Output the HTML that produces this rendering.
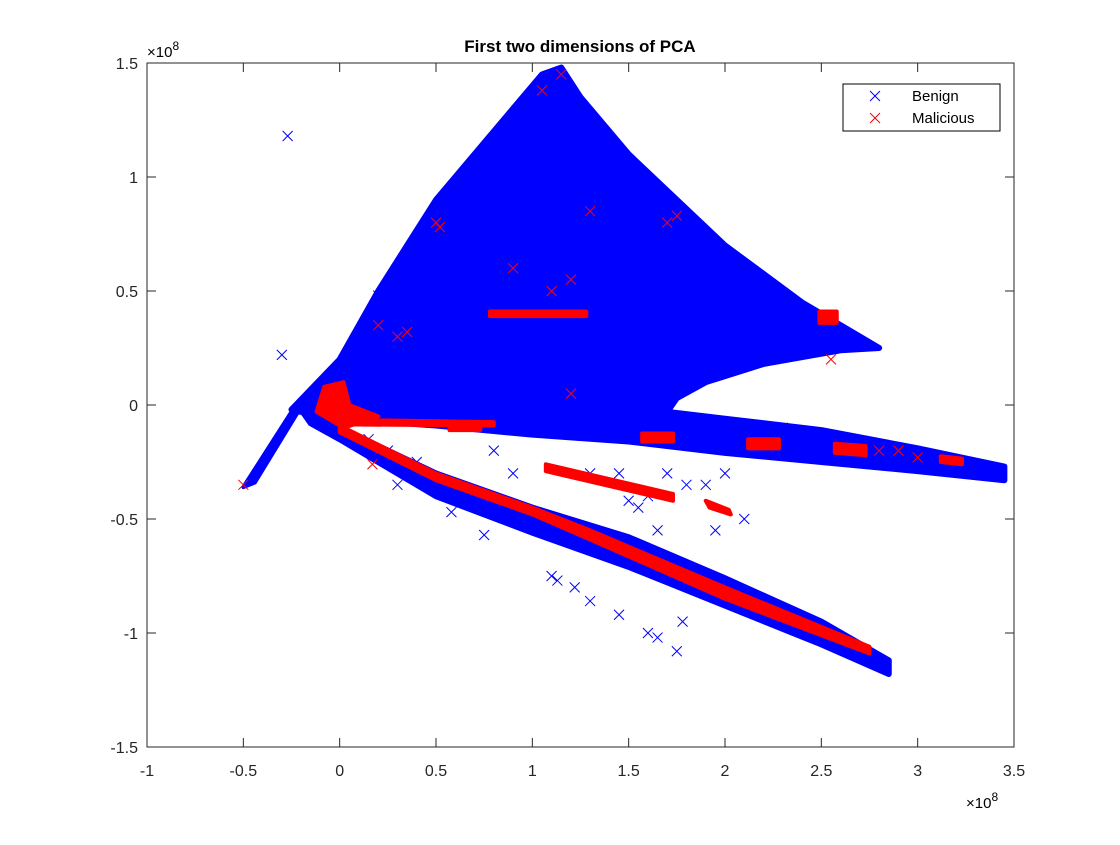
<!DOCTYPE html>
<html><head><meta charset="utf-8"><style>
body{margin:0;background:#fff;}
svg text{font-family:"Liberation Sans",sans-serif;}
</style></head><body>
<svg id="chart" width="1120" height="840" viewBox="0 0 1120 840" xmlns="http://www.w3.org/2000/svg">
<rect width="1120" height="840" fill="#fff"/>
<rect x="147" y="63" width="867" height="684" fill="#fff"/>
<g id="marks"></g>
<g id="axes"></g>
<text x="580" y="52" text-anchor="middle" font-size="17" font-weight="bold">First two dimensions of PCA</text>
<text x="147" y="57" font-size="15">×10<tspan dy="-7" font-size="12">8</tspan></text>
<text x="966" y="808" font-size="15">×10<tspan dy="-7" font-size="12">8</tspan></text>
<g>
<rect x="843" y="84" width="157" height="47" fill="#fff" stroke="#000" stroke-width="1"/>
<g>
<path d="M870 91 l10 10 M880 91 l-10 10" stroke="#0000ff" stroke-width="1"/>
<text x="912" y="101" font-size="15">Benign</text></g>
<g>
<path d="M870 113 l10 10 M880 113 l-10 10" stroke="#ff0000" stroke-width="1"/>
<text x="912" y="123" font-size="15">Malicious</text></g>
</g>
</svg>
<script>
const xTicks=[-1,-0.5,0,0.5,1,1.5,2,2.5,3,3.5];
const xTickLabels=["-1","-0.5","0","0.5","1","1.5","2","2.5","3","3.5"];
const yTicks=[-1.5,-1,-0.5,0,0.5,1,1.5];
const yTickLabels=["-1.5","-1","-0.5","0","0.5","1","1.5"];
// dense regions (units of 1e8), [x,y] vertices
const benignMain=[[-0.25,-0.02],[0.0,0.2],[0.2,0.5],[0.5,0.9],[0.9,1.3],[1.05,1.45],[1.15,1.48],[1.25,1.35],[1.5,1.1],[2.0,0.7],[2.4,0.45],[2.8,0.25],[2.6,0.24],[2.2,0.18],[1.9,0.1],[1.75,0.03],[1.7,-0.03],[2.0,-0.06],[2.5,-0.11],[3.0,-0.19],[3.45,-0.27],[3.45,-0.33],[3.0,-0.29],[2.5,-0.25],[2.0,-0.21],[1.5,-0.16],[1.0,-0.13],[0.5,-0.09],[0.0,-0.06],[-0.1,-0.05]];
const benignLower=[[-0.2,-0.02],[0.5,-0.3],[1.0,-0.45],[1.5,-0.58],[2.0,-0.76],[2.5,-0.95],[2.85,-1.12],[2.85,-1.18],[2.5,-1.05],[2.0,-0.88],[1.5,-0.71],[1.0,-0.56],[0.5,-0.4],[0.0,-0.15],[-0.15,-0.08]];
const benignTail=[[-0.5,-0.36],[-0.25,-0.03],[-0.18,0.02],[-0.44,-0.34]];
const benignPoints=[[-0.27,1.18],[0.56,0.66],[0.2,0.48],[-0.3,0.22],[0.75,-0.57],[0.58,-0.47],[1.1,-0.75],[1.13,-0.77],[1.22,-0.8],[1.3,-0.86],[1.45,-0.92],[1.6,-1.0],[1.65,-1.02],[1.75,-1.08],[1.78,-0.95],[1.2,-0.6],[1.6,-0.4],[1.55,-0.45],[1.5,-0.42],[1.8,-0.35],[1.7,-0.3],[2.0,-0.3],[1.9,-0.35],[1.3,-0.3],[0.4,-0.25],[0.3,-0.35],[0.25,-0.2],[0.15,-0.15],[2.1,-0.5],[1.65,-0.55],[1.95,-0.55],[2.3,-0.1],[1.45,-0.3],[0.9,-0.3],[0.8,-0.2]];
const maliciousPolys=[
[[-0.12,-0.03],[-0.08,0.08],[0.02,0.1],[0.05,0.0],[0.2,-0.05],[0.02,-0.1]],
[[0.0,-0.09],[0.5,-0.3],[1.0,-0.45],[1.3,-0.55],[2.0,-0.8],[2.75,-1.06],[2.75,-1.09],[2.0,-0.85],[1.3,-0.59],[1.0,-0.48],[0.5,-0.33],[0.0,-0.12]],
[[1.07,-0.26],[1.73,-0.39],[1.73,-0.42],[1.07,-0.29]],
[[1.9,-0.42],[2.02,-0.46],[2.03,-0.48],[1.92,-0.45]],
[[1.57,-0.125],[1.73,-0.125],[1.73,-0.16],[1.57,-0.16]],
[[2.12,-0.15],[2.28,-0.15],[2.28,-0.19],[2.12,-0.19]],
[[2.57,-0.17],[2.73,-0.18],[2.73,-0.22],[2.57,-0.21]],
[[3.12,-0.225],[3.23,-0.235],[3.23,-0.26],[3.12,-0.25]],
[[0.78,0.39],[1.28,0.39],[1.28,0.41],[0.78,0.41]],
[[2.49,0.36],[2.58,0.36],[2.58,0.41],[2.49,0.41]],
[[0.0,-0.065],[0.8,-0.075],[0.8,-0.09],[0.0,-0.085]],
[[0.57,-0.085],[0.73,-0.085],[0.73,-0.11],[0.57,-0.11]]];
const maliciousPoints=[[0.5,0.8],[0.52,0.78],[1.7,0.8],[1.75,0.83],[1.2,0.05],[0.3,0.3],[0.35,0.32],[0.2,0.35],[-0.5,-0.35],[0.17,-0.26],[2.9,-0.2],[3.0,-0.23],[1.1,0.5],[1.2,0.55],[0.9,0.6],[1.3,0.85],[2.55,0.2],[2.8,-0.2],[1.05,1.38],[1.15,1.45]];

const marks=document.getElementById('marks');
const axes=document.getElementById('axes');
const NS='http://www.w3.org/2000/svg';
function sx(v){return 147+(v+1)*867/4.5;}
function sy(v){return 63+(1.5-v)*684/3;}
function poly(pts,color,name,sw){
 const p=document.createElementNS(NS,'polygon');
 p.setAttribute('points',pts.map(q=>sx(q[0])+','+sy(q[1])).join(' '));
 p.setAttribute('fill',color);p.setAttribute('stroke',color);
 p.setAttribute('stroke-width',sw);p.setAttribute('stroke-linejoin','round');
 
 
 marks.appendChild(p);
}
function cross(q,color,name){
 const x=sx(q[0]),y=sy(q[1]);
 const p=document.createElementNS(NS,'path');
 p.setAttribute('d',`M${x-5} ${y-5}L${x+5} ${y+5}M${x+5} ${y-5}L${x-5} ${y+5}`);
 p.setAttribute('stroke',color);p.setAttribute('stroke-width','1');
 
 
 marks.appendChild(p);
}
poly(benignMain,'#0000ff','benign-main-cluster',6);
poly(benignLower,'#0000ff','benign-lower-cluster',6);
poly(benignTail,'#0000ff','benign-tail-cluster',4);
benignPoints.forEach(q=>cross(q,'#0000ff','benign-point'));
maliciousPolys.forEach(pl=>poly(pl,'#ff0000','malicious-cluster',4));
maliciousPoints.forEach(q=>cross(q,'#ff0000','malicious-point'));

const box=document.createElementNS(NS,'rect');
box.setAttribute('x',147);box.setAttribute('y',63);box.setAttribute('width',867);box.setAttribute('height',684);
box.setAttribute('fill','none');box.setAttribute('stroke','#262626');


axes.appendChild(box);
xTicks.forEach((t,i)=>{
 const x=sx(t);
 const l=document.createElementNS(NS,'path');
 l.setAttribute('d',`M${x} 747v-9M${x} 63v9`);l.setAttribute('stroke','#262626');
 
 
 axes.appendChild(l);
 const tx=document.createElementNS(NS,'text');
 tx.setAttribute('x',x);tx.setAttribute('y',776);tx.setAttribute('text-anchor','middle');tx.setAttribute('font-size','16');tx.setAttribute('fill','#262626');
 tx.textContent=xTickLabels[i];
 
 
 axes.appendChild(tx);
});
yTicks.forEach((t,i)=>{
 const y=sy(t);
 const l=document.createElementNS(NS,'path');
 l.setAttribute('d',`M147 ${y}h9M1014 ${y}h-9`);l.setAttribute('stroke','#262626');
 
 
 axes.appendChild(l);
 const tx=document.createElementNS(NS,'text');
 tx.setAttribute('x',138);tx.setAttribute('y',y+6);tx.setAttribute('text-anchor','end');tx.setAttribute('font-size','16');tx.setAttribute('fill','#262626');
 tx.textContent=yTickLabels[i];
 
 
 axes.appendChild(tx);
});
</script>
</body></html>
